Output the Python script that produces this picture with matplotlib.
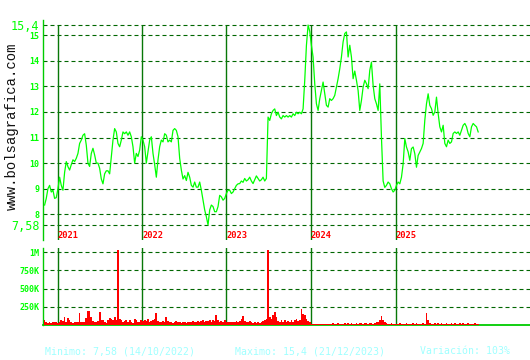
import matplotlib
matplotlib.use('Agg')
import matplotlib.pyplot as plt
import pandas as pd

# weekly closes (Nov 2020 -> Dec 2025)
FIRST_DATE = '2020-11-06'
LAST_DATE = '2025-12-24'
PRICE = [
    8.36, 8.62, 9.0, 9.13, 8.87, 8.94, 8.62, 8.65, 9.0, 9.45,
    9.13, 8.94, 9.64, 10.06, 9.86, 9.73, 9.94, 10.13, 10.06, 10.19,
    10.38, 10.77, 10.9, 11.09, 11.15, 10.7, 10.0, 9.87, 10.38, 10.58,
    10.32, 10.0, 10.0, 9.8, 9.38, 9.19, 9.58, 9.7, 9.7, 9.58,
    10.26, 10.9, 11.35, 11.22, 10.77, 10.64, 10.9, 11.22, 11.15, 11.22,
    11.09, 11.22, 11.03, 10.64, 10.0, 10.38, 10.26, 10.51, 11.03,
    10.9, 10.64, 10.0, 10.45, 10.9, 11.03, 10.38, 9.94, 9.45, 10.13,
    10.64, 10.9, 10.83, 11.15, 11.09, 10.83, 10.9, 10.83, 11.28, 11.35,
    11.28, 11.03, 10.19, 9.73, 9.38, 9.51, 9.32, 9.64, 9.45, 9.13,
    9.06, 9.26, 9.06, 9.06, 9.26, 8.94, 8.55, 8.17, 7.9, 7.58,
    8.17, 8.36, 8.3, 8.1, 8.1, 8.3, 8.74, 8.68, 8.55, 8.62,
    8.81, 8.94, 8.94, 8.81, 8.87, 9.0, 9.13, 9.19,
    9.2, 9.3, 9.25, 9.4, 9.3, 9.35, 9.45, 9.3, 9.2, 9.35,
    9.5, 9.4, 9.3, 9.35, 9.45, 9.3, 9.4,
    11.8, 11.67, 11.93, 12.06, 12.12, 11.86, 11.99, 11.8, 11.73, 11.86,
    11.8, 11.86, 11.8, 11.86, 11.8, 11.93, 11.86, 11.99, 11.93, 11.99,
    11.93, 12.12, 13.24, 14.6, 15.4, 15.15, 14.6, 14.15, 13.1, 12.32,
    12.06, 12.52, 12.84, 13.17, 12.71, 12.26, 12.19, 12.52, 12.45, 12.52,
    12.65, 12.97, 13.3, 13.69, 14.15, 14.74, 15.07, 15.13, 14.15, 14.61,
    14.15, 13.3, 13.6, 13.24, 12.84, 12.06, 12.45, 12.97, 13.24, 13.11,
    12.91, 13.63, 13.95, 13.04, 12.52, 12.32, 12.06, 13.1, 11.0, 9.3,
    9.05, 9.13, 9.26, 9.19, 9.0, 8.87, 8.94, 9.13, 9.26, 9.19,
    9.45, 9.97, 10.96, 10.63, 10.44, 10.11, 10.57, 10.63, 10.37, 9.84, 10.3,
    10.44, 10.57, 10.77, 11.68, 12.32, 12.71, 12.26, 12.13, 11.87, 12.0,
    12.58, 11.94, 11.42, 11.22, 11.48, 10.77, 10.64, 10.9, 10.77, 10.83,
    11.16, 11.22, 11.16, 11.22, 11.09, 11.29, 11.48, 11.55, 11.42, 11.16,
    11.03, 11.42, 11.55, 11.48, 11.42, 11.22,
]
# volume in thousands of shares
VOLUME_K = [
    75, 40, 31, 35, 22, 40, 44, 35, 31, 44,
    75, 57, 110, 44, 101, 75, 44, 22, 35, 44,
    44, 162, 44, 35, 44, 101, 189, 198, 110, 57,
    44, 35, 57, 176, 66, 75, 44, 31, 66, 101,
    88, 66, 110, 66, 1030, 88, 66, 44, 57, 75,
    35, 66, 44, 31, 88, 66, 44, 35, 66, 53,
    75, 57, 88, 44, 57, 66, 88, 162, 57, 44,
    35, 57, 44, 110, 57, 35, 44, 31, 44, 53,
    35, 44, 31, 35, 40, 31, 35, 44, 35, 53,
    44, 35, 57, 44, 53, 66, 44, 57, 53, 66,
    44, 75, 57, 132, 66, 44, 57, 44, 75, 44,
    35, 44, 40, 35, 44, 53, 35, 57, 88, 119,
    57, 44, 35, 53, 35, 31, 35, 31, 35, 31,
    40, 57, 66, 88, 1030, 110, 88, 132, 176, 110,
    57, 44, 66, 44, 75, 40, 57, 35, 66, 44,
    66, 88, 57, 75, 220, 154, 132, 88, 57, 35,
    18, 18, 18, 18, 13, 18, 18, 18, 13, 9,
    18, 13, 18, 22, 18, 13, 22, 18, 13, 18,
    22, 18, 31, 18, 22, 18, 13, 22, 18, 31,
    22, 18, 31, 22, 18, 22, 31, 18, 22, 40,
    40, 75, 125, 70, 40, 22, 18, 13, 22, 18,
    18, 13, 18, 22, 18, 13, 18, 22, 18, 13,
    18, 22, 18, 22, 18, 13, 18, 22, 18, 160,
    66, 22, 18, 13, 22, 18, 22, 18, 22, 18,
    18, 22, 18, 13, 22, 18, 22, 13, 18, 22,
    18, 22, 18, 13, 22, 18, 13, 18, 22, 18, 13,
]
YEARS = [2021, 2022, 2023, 2024, 2025]
PRICE_TICKS = [7.58, 8, 9, 10, 11, 12, 13, 14, 15, 15.4]
PRICE_LABELS = ['7,58', '8', '9', '10', '11', '12', '13', '14', '15', '15,4']
VOL_TICKS = [250e3, 500e3, 750e3, 1e6]
VOL_LABELS = ['250K', '500K', '750K', '1M']
STATS = ['Minimo: 7,58 (14/10/2022)', 'Maximo: 15,4 (21/12/2023)', 'Variación: 103%']

LIME = '#00ff00'
SPINE = '#00cc00'
GRID = '#006600'
YEARLINE = '#087808'
MONO = 'DejaVu Sans Mono'
DASH = (0, (3.6, 2.7))

price_dates = pd.date_range(FIRST_DATE, LAST_DATE, periods=len(PRICE))
vol_dates = pd.date_range(FIRST_DATE, LAST_DATE, periods=len(VOLUME_K))
year_dates = [pd.Timestamp(f'{y}-01-01') for y in YEARS]
xlim = (pd.Timestamp('2020-10-30'), pd.Timestamp('2026-08-05'))

fig = plt.figure(figsize=(5.3, 3.6), dpi=100)
fig.patch.set_facecolor('white')

# price panel
ax = fig.add_axes([0.0811, 0.3333, 0.9189, 0.6111])
ax.set_xlim(xlim)
ax.set_ylim(6.993, 15.596)
for y in PRICE_TICKS:
    ax.axhline(y, color=GRID, lw=0.8, linestyle=DASH, zorder=1)
ax.vlines(year_dates, 6.993, 15.4, color=YEARLINE, lw=1.0, zorder=2)
ax.plot(price_dates, PRICE, color=LIME, lw=0.9, zorder=3)
for d, y in zip(year_dates, YEARS):
    ax.text(d, 7.15, str(y), color='#ff0000', fontsize=6.3, fontweight='bold',
            family=MONO, ha='left', va='center', zorder=4)
ax.set_yticks(PRICE_TICKS)
ax.set_yticklabels(PRICE_LABELS)
ax.set_xticks([])
ax.tick_params(axis='y', length=0, pad=2.5, colors=LIME)
for lbl in ax.get_yticklabels():
    lbl.set_family(MONO)
    if ',' in lbl.get_text():
        lbl.set_fontsize(8.5)
    else:
        lbl.set_fontsize(6)
        lbl.set_fontweight('bold')
for s in ['top', 'right', 'bottom']:
    ax.spines[s].set_visible(False)
ax.spines['left'].set_color(SPINE)
ax.spines['left'].set_linewidth(1.0)

# volume panel
vx = fig.add_axes([0.0811, 0.0972, 0.9189, 0.2139])
vx.set_xlim(xlim)
vx.set_ylim(0, 1.055e6)
for y in VOL_TICKS:
    vx.axhline(y, color=GRID, lw=0.8, linestyle=DASH, zorder=1)
for d in year_dates:
    vx.axvline(d, ymax=1.0, color=YEARLINE, lw=1.0, zorder=2)
vx.bar(vol_dates, [v * 1000 for v in VOLUME_K], width=7.5, color='#ff0000',
       linewidth=0, align='center', zorder=3)
vx.set_yticks(VOL_TICKS)
vx.set_yticklabels(VOL_LABELS)
vx.set_xticks([])
vx.tick_params(axis='y', length=0, pad=2.5, colors=LIME)
for lbl in vx.get_yticklabels():
    lbl.set_family(MONO)
    lbl.set_fontsize(6)
    lbl.set_fontweight('bold')
for s in ['top', 'right']:
    vx.spines[s].set_visible(False)
vx.spines['left'].set_color(SPINE)
vx.spines['bottom'].set_color(SPINE)
vx.spines['left'].set_linewidth(1.0)
vx.spines['bottom'].set_linewidth(1.3)

# watermark and summary line
fig.text(0.0226, 0.648, 'www.bolsagrafica.com', rotation=90,
         family='Liberation Mono', fontsize=10, color='#111111',
         ha='center', va='center')
for xpos, txt in zip([0.085, 0.443, 0.792], STATS):
    fig.text(xpos, 0.025, txt, family=MONO, fontsize=7.1, color='#a0ffff',
             ha='left', va='center')

fig.savefig('out.png', dpi=100, facecolor='white')
